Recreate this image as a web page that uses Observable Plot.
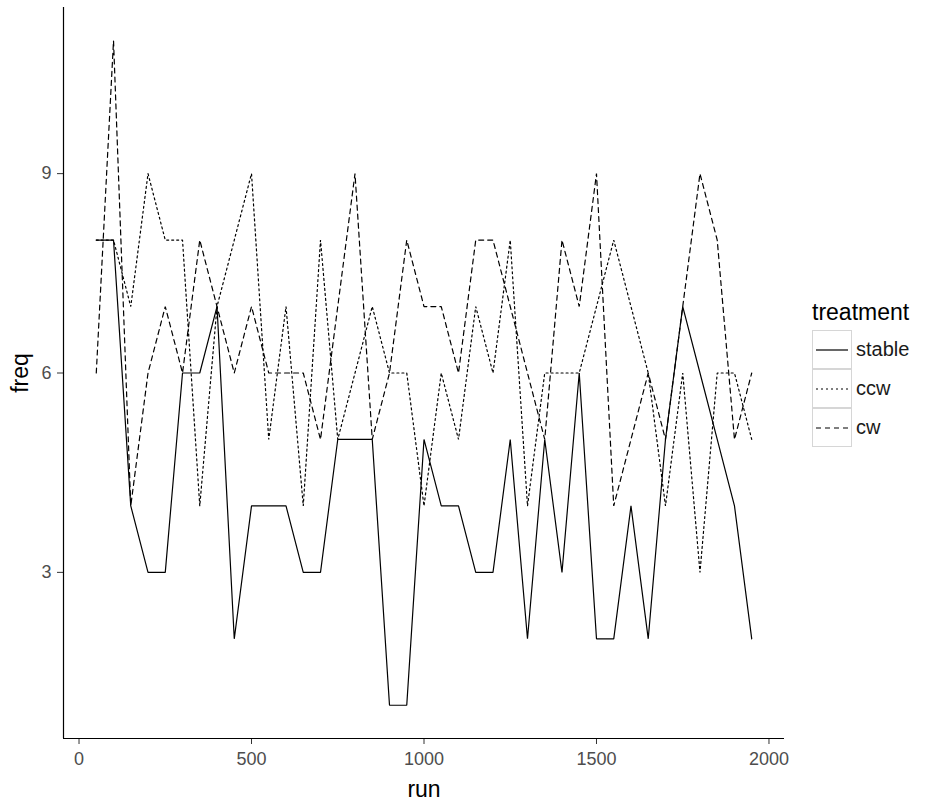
<!DOCTYPE html>
<html>
<head>
<meta charset="utf-8">
<script src="https://cdn.jsdelivr.net/npm/d3@7"></script>
<script src="https://cdn.jsdelivr.net/npm/@observablehq/plot@0.6"></script>
<style>
  html, body { margin: 0; padding: 0; background: #fff; }
  #wrap { position: relative; width: 930px; height: 809px; font-family: "Liberation Sans", Arial, sans-serif; }
  #chart { position: absolute; left: 0; top: 0; }
  #legend { position: absolute; left: 812px; top: 298px; color: #000; }
  #legend .title { font-size: 23px; line-height: 28px; margin-bottom: 4px; }
  #legend .row { display: flex; align-items: center; height: 39px; }
  #legend .key { width: 38px; height: 37px; border: 1px solid #d6d6d6; display: flex; align-items: center; justify-content: center; background: #fff; }
  #legend .lab { font-size: 20px; margin-left: 4px; color: #1a1a1a; }
</style>
</head>
<body>
<div id="wrap">
  <div id="chart"></div>
  <div id="legend"></div>
</div>
<script>
// ---- data ----
const runs = [50, 100, 150, 200, 250, 300, 350, 400, 450, 500, 550, 600, 650, 700, 750, 800, 850, 900, 950, 1000,
              1050, 1100, 1150, 1200, 1250, 1300, 1350, 1400, 1450, 1500, 1550, 1600, 1650, 1700, 1750, 1800, 1850, 1900, 1950];
const stable = [8, 8, 4, 3, 3, 6, 6, 7, 2, 4, 4, 4, 3, 3, 5, 5, 5, 1, 1, 5,
                4, 4, 3, 3, 5, 2, 5, 3, 6, 2, 2, 4, 2, 5, 7, 6, 5, 4, 2];
const ccw = [8, 8, 7, 9, 8, 8, 4, 7, 8, 9, 5, 7, 4, 8, 5, 6, 7, 6, 6, 4,
             6, 5, 7, 6, 8, 4, 6, 6, 6, 7, 8, 7, 6, 4, 6, 3, 6, 6, 5];
const cw = [6, 11, 4, 6, 7, 6, 8, 7, 6, 7, 6, 6, 6, 5, 7, 9, 5, 6, 8, 7,
            7, 6, 8, 8, 7, 6, 5, 8, 7, 9, 4, 5, 6, 5, 7, 9, 8, 5, 6];
const treatments = ["stable", "ccw", "cw"];
const xTicks = [0, 500, 1000, 1500, 2000];
const yTicks = [3, 6, 9];
const xDomain = [-45, 2045];
const yDomain = [0.5, 11.5];

// ---- styles ----
const dashes = { stable: null, ccw: "2,3", cw: "5,4" };

const series = { stable, ccw, cw };
const data = treatments.flatMap(t => runs.map((r, i) => ({ run: r, freq: series[t][i], treatment: t })));

const lineMarks = treatments.map(t =>
  Plot.line(data.filter(d => d.treatment === t), {
    x: "run", y: "freq", stroke: "#000", strokeWidth: 1.2,
    strokeDasharray: dashes[t] || undefined, strokeLinejoin: "miter", curve: "linear"
  })
);

const chart = Plot.plot({
  width: 800,
  height: 809,
  marginLeft: 63,
  marginRight: 16,
  marginTop: 7,
  marginBottom: 71,
  style: { fontFamily: "'Liberation Sans', Arial, sans-serif", fontSize: "18px", background: "#fff", color: "#4d4d4d" },
  x: { domain: xDomain, ticks: xTicks },
  y: { domain: yDomain, ticks: yTicks },
  marks: [
    Plot.axisX({ ticks: xTicks, tickFormat: d => String(d), tickSize: 6, tickPadding: 8, stroke: "#333", fill: "#4d4d4d", fontSize: 18,
                 label: "run", labelAnchor: "center", labelOffset: 58, labelArrow: "none" }),
    Plot.axisY({ ticks: yTicks, tickFormat: d => String(d), tickSize: 6, tickPadding: 6, stroke: "#333", fill: "#4d4d4d", fontSize: 18,
                 label: "freq", labelAnchor: "center", labelOffset: 52, labelArrow: "none" }),
    Plot.ruleX([xDomain[0]], { stroke: "#000", strokeWidth: 1.2 }),
    Plot.ruleY([yDomain[0]], { stroke: "#000", strokeWidth: 1.2 }),
    ...lineMarks
  ]
});
document.getElementById("chart").appendChild(chart);

// axis title styling
d3.select(chart).selectAll('[aria-label="x-axis label"] text, [aria-label="y-axis label"] text')
  .style("font-size", "23px").attr("fill", "#000");

// ---- legend ----
const legend = d3.select("#legend");
legend.append("div").attr("class", "title").text("treatment");
treatments.forEach(t => {
  const row = legend.append("div").attr("class", "row");
  const key = row.append("div").attr("class", "key");
  const svg = key.append("svg").attr("width", 34).attr("height", 10);
  const ln = svg.append("line").attr("x1", 1).attr("x2", 33).attr("y1", 5).attr("y2", 5)
    .attr("stroke", "#000").attr("stroke-width", 1.2);
  if (dashes[t]) ln.attr("stroke-dasharray", dashes[t]);
  row.append("div").attr("class", "lab").text(t);
});
</script>
</body>
</html>
